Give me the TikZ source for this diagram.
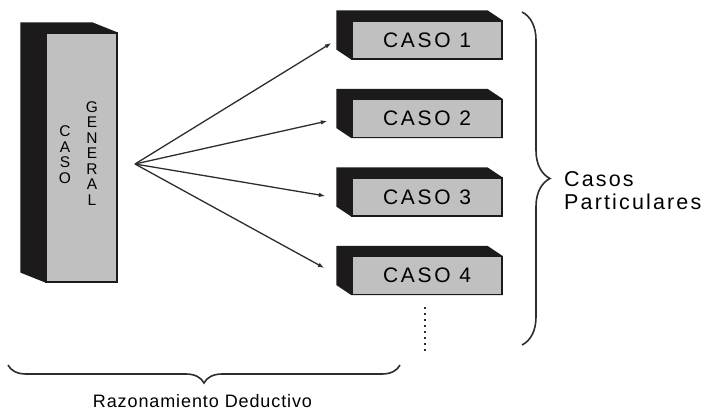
\documentclass[tikz,border=0pt]{standalone}
\usepackage{fontspec}
\setmainfont{Liberation Sans}
\usepackage{tikz}
\usetikzlibrary{arrows.meta, positioning, decorations.pathreplacing, backgrounds}
\definecolor{boxgray}{RGB}{192,192,192}
\definecolor{boxdark}{RGB}{28,26,26}
\definecolor{linegray}{RGB}{45,45,45}

\begin{document}
\begin{tikzpicture}[x=1pt, y=-1pt,
  casebox/.style={draw=boxdark, line width=1.2pt, fill=boxgray, minimum width=150pt, minimum height=38pt, inner sep=0pt,
    font=\fontsize{21}{22}\selectfont\addfontfeature{LetterSpace=13}},
  bigbox/.style={draw=boxdark, line width=1.2pt, fill=boxgray, minimum width=71pt, minimum height=249pt, inner sep=0pt},
  vtext/.style={align=center, inner sep=0pt, font=\fontsize{15.5}{15.5}\selectfont},
  shade3d/.style={fill=boxdark},
  arr/.style={draw=linegray, line width=1.3pt, -{Latex[length=6.5pt, width=4.5pt]}},
  brace/.style={draw=linegray, line width=1.6pt, decorate, decoration={brace, amplitude=#1}},
  lbl/.style={inner sep=0pt, font=\fontsize{21.5}{23}\selectfont\addfontfeature{LetterSpace=10}}
]
\useasboundingbox (0,0) rectangle (707,410);

\node[bigbox] (general) at (81.5,157.5) {};
\node[vtext] (caso) at (65,154.5) {C\\A\\S\\O};
\node[vtext] (gen) at (92,153.5) {G\\E\\N\\E\\R\\A\\L};

\foreach \i in {1,...,4}
  \node[casebox] (c\i) at (427,{40+78.5*(\i-1)}) {CASO \i};

\begin{scope}[on background layer]
  \fill[shade3d] ([shift={(-25,-10)}]general.north west) -- ([shift={(-25,-10)}]general.north east) -- (general.north east)
    -- (general.south east) -- (general.south west) -- ([shift={(-25,-10)}]general.south west) -- cycle;
  \foreach \i in {1,...,4}
    \fill[shade3d] ([shift={(-15,-10)}]c\i.north west) -- ([shift={(-15,-10)}]c\i.north east) -- (c\i.north east)
      -- (c\i.south east) -- (c\i.south west) -- ([shift={(-15,-10)}]c\i.south west) -- cycle;
\end{scope}

\coordinate (src) at (135,164);
\foreach \i/\dx/\dy in {1/-20/3, 2/-24/2.5, 3/-26/-1, 4/-27/-7.5}
  \draw[arr] (src) -- ([shift={(\dx,\dy)}]c\i.west);

\draw[linegray, line width=1.8pt, dash pattern=on 1.8pt off 4.2pt] ([shift={(-2,12)}]c4.south) -- ([shift={(-2,58)}]c4.south);

\coordinate (rtop) at (522,12);
\coordinate (rbot) at (522,345);
\draw[brace=28pt] (rtop) -- (rbot);
\node[lbl, anchor=west, align=left] (part) at (564,191) {Casos\\Particulares};

\coordinate (bright) at (400,365);
\coordinate (bleft) at (8,365);
\draw[brace=18pt] (bright) -- (bleft);
\node[lbl, font=\fontsize{18}{20}\selectfont\addfontfeature{LetterSpace=5}] (razon) at (202.5,401) {Razonamiento Deductivo};
\end{tikzpicture}
\end{document}
